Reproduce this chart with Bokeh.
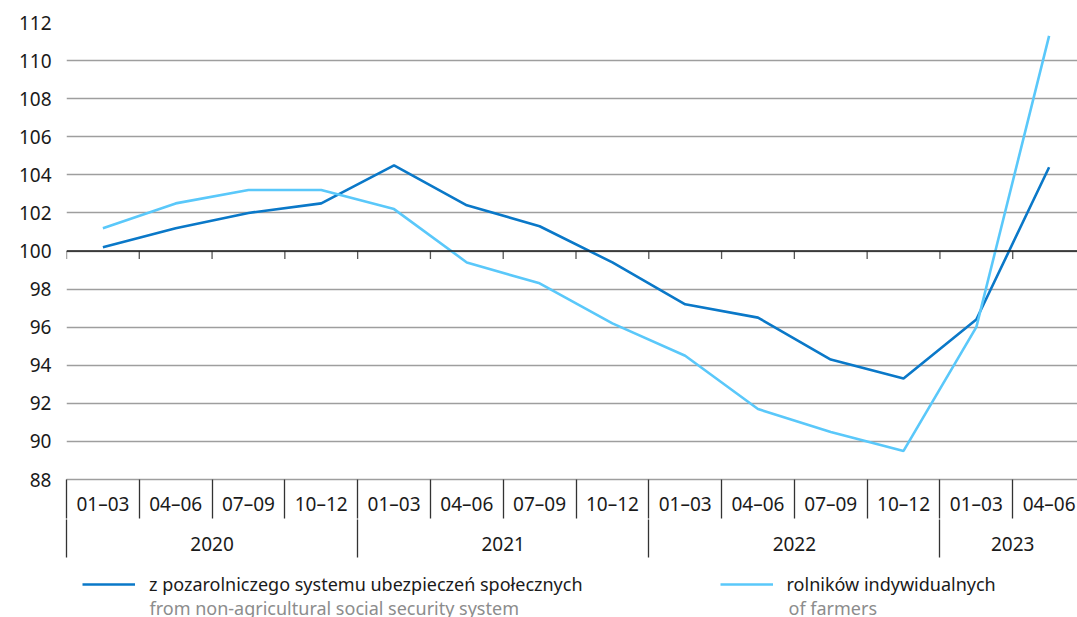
from bokeh.plotting import figure
from bokeh.layouts import column
from bokeh.models import LinearAxis, FixedTicker, Range1d, Legend, LegendItem, Label, Span
from bokeh.embed import file_html
from bokeh.resources import INLINE

# ---- data ----
years = ["2020", "2021", "2022", "2023"]
quarters_per_year = [4, 4, 4, 2]
quarters = ["01–03", "04–06", "07–09", "10–12",
            "01–03", "04–06", "07–09", "10–12",
            "01–03", "04–06", "07–09", "10–12",
            "01–03", "04–06"]
non_agri = [100.2, 101.2, 102.0, 102.5, 104.5, 102.4, 101.3, 99.4,
            97.2, 96.5, 94.3, 93.3, 96.4, 104.4]
farmers = [101.2, 102.5, 103.2, 103.2, 102.2, 99.4, 98.3, 96.2,
           94.5, 91.7, 90.5, 89.5, 96.0, 111.3]
labels_pl = ["z pozarolniczego systemu ubezpieczeń społecznych", "rolników indywidualnych"]
labels_en = ["from non-agricultural social security system", "of farmers"]
y_ticks = list(range(88, 113, 2))
baseline = 100

FONT = "Noto Sans"
DARK = "#0a78c8"
LIGHT = "#5ac8fa"
TXT = "#1a1a1a"

n = len(quarters)
xc = [i + 0.5 for i in range(n)]
bounds = list(range(n + 1))
year_starts = []
year_centers = []
s = 0
for k in quarters_per_year:
    year_starts.append(s)
    year_centers.append(s + k / 2)
    s += k

p = figure(width=1077, height=562, output_backend="svg", toolbar_location=None,
           x_range=Range1d(0, 13.89), y_range=Range1d(88, 112),
           x_axis_type=None, min_border_left=66, min_border_top=22, min_border_right=0,
           min_border_bottom=83)
p.outline_line_color = None
p.xgrid.visible = False
p.ygrid.ticker = FixedTicker(ticks=y_ticks)
p.ygrid.grid_line_color = "#9e9e9e"
p.ygrid.grid_line_width = 1.3

ya = p.yaxis[0]
ya.ticker = FixedTicker(ticks=y_ticks)
ya.axis_line_color = None
ya.major_tick_line_color = None
ya.minor_tick_line_color = None
ya.major_label_text_font = FONT
ya.major_label_text_font_size = "19px"
ya.major_label_text_color = TXT
ya.major_label_standoff = 9

# baseline at 100 with ticks at category boundaries
p.add_layout(Span(location=baseline, dimension="width", line_color=TXT, line_width=1.6))
tick_len = 8 * (112 - 88) / 457.0
p.segment(x0=bounds, y0=[baseline] * len(bounds), x1=bounds,
          y1=[baseline - tick_len] * len(bounds), line_color="#555555", line_width=1.3)

r1 = p.line(xc, non_agri, line_color=DARK, line_width=2.6)
r2 = p.line(xc, farmers, line_color=LIGHT, line_width=2.6)

# quarter axis
qa = LinearAxis(ticker=FixedTicker(ticks=xc, minor_ticks=bounds),
                major_label_overrides={x: q for x, q in zip(xc, quarters)},
                major_tick_in=0, major_tick_out=0,
                minor_tick_in=0, minor_tick_out=39,
                minor_tick_line_color="#333333", minor_tick_line_width=1.3,
                axis_line_color="#9e9e9e", axis_line_width=1.3,
                major_label_standoff=-28,
                major_label_text_font=FONT, major_label_text_font_size="19px",
                major_label_text_color=TXT)
p.add_layout(qa, "below")

# year axis
ya2 = LinearAxis(ticker=FixedTicker(ticks=year_centers, minor_ticks=year_starts),
                 major_label_overrides={x: y for x, y in zip(year_centers, years)},
                 major_tick_in=0, major_tick_out=0,
                 minor_tick_in=0, minor_tick_out=38,
                 minor_tick_line_color="#333333", minor_tick_line_width=1.3,
                 axis_line_color=None,
                 major_label_standoff=-21,
                 major_label_text_font=FONT, major_label_text_font_size="19px",
                 major_label_text_color=TXT)
p.add_layout(ya2, "below")

# ---- legend strip ----
lf = figure(width=1077, height=55, output_backend="svg", toolbar_location=None,
            x_range=Range1d(0, 1), y_range=Range1d(0, 1),
            x_axis_type=None, y_axis_type=None,
            min_border_left=66, min_border_right=0, min_border_top=0, min_border_bottom=0)
lf.outline_line_color = None
lf.xgrid.visible = False
lf.ygrid.visible = False
# proxy renderers (outside the visible range) that give the legend its line samples
d1 = lf.line(x=[-2, -1], y=[-2, -1], line_color=DARK, line_width=2.6)
d2 = lf.line(x=[-2, -1], y=[-2, -1], line_color=LIGHT, line_width=2.6)
legend = Legend(items=[LegendItem(label=labels_pl[0], renderers=[d1]),
                       LegendItem(label=labels_pl[1], renderers=[d2])],
                orientation="horizontal", location=(16, 20),
                glyph_width=53, glyph_height=26, label_height=26,
                label_standoff=14, spacing=137,
                margin=0, padding=0, border_line_color=None, background_fill_alpha=0,
                label_text_font=FONT, label_text_font_size="18px",
                label_text_color=TXT)
lf.add_layout(legend, "center")

for xpos, txt in zip([83, 722], labels_en):
    lf.add_layout(Label(x=xpos, y=10, x_units="screen", y_units="screen", text=txt,
                        text_font=FONT, text_font_size="18px", text_color="#8c8c8c",
                        text_baseline="middle"))

layout = column(p, lf, spacing=0)
open("out.html", "w").write(file_html(layout, INLINE))
